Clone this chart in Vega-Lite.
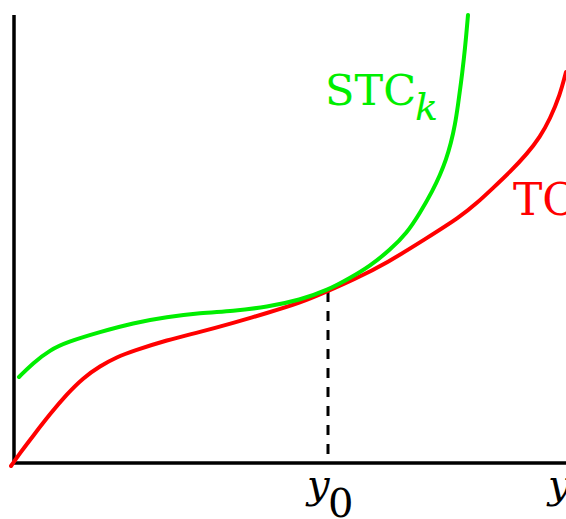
{
  "$schema": "https://vega.github.io/schema/vega-lite/v6.json",
  "width": 566,
  "height": 519,
  "autosize": "none",
  "padding": 0,
  "background": "white",
  "config": {"view": {"stroke": null}, "text": {"font": "DejaVu Serif"}},
  "datasets": {
    "curves": [
      {"curve": "TC", "px": 11, "py": 466}, {"curve": "TC", "px": 20, "py": 453}, {"curve": "TC", "px": 33, "py": 436},
      {"curve": "TC", "px": 50, "py": 414}, {"curve": "TC", "px": 67, "py": 394}, {"curve": "TC", "px": 83, "py": 378},
      {"curve": "TC", "px": 100, "py": 366}, {"curve": "TC", "px": 117, "py": 357}, {"curve": "TC", "px": 133, "py": 351},
      {"curve": "TC", "px": 167, "py": 340}, {"curve": "TC", "px": 200, "py": 332}, {"curve": "TC", "px": 233, "py": 323},
      {"curve": "TC", "px": 267, "py": 313}, {"curve": "TC", "px": 300, "py": 303}, {"curve": "TC", "px": 328, "py": 291},
      {"curve": "TC", "px": 353, "py": 280}, {"curve": "TC", "px": 387, "py": 263}, {"curve": "TC", "px": 427, "py": 238},
      {"curve": "TC", "px": 460, "py": 217}, {"curve": "TC", "px": 477, "py": 203}, {"curve": "TC", "px": 493, "py": 188},
      {"curve": "TC", "px": 510, "py": 172}, {"curve": "TC", "px": 527, "py": 154}, {"curve": "TC", "px": 540, "py": 137},
      {"curve": "TC", "px": 550, "py": 119}, {"curve": "TC", "px": 560, "py": 95}, {"curve": "TC", "px": 566, "py": 72},
      {"curve": "STC", "px": 19, "py": 377}, {"curve": "STC", "px": 33, "py": 363}, {"curve": "STC", "px": 50, "py": 350},
      {"curve": "STC", "px": 67, "py": 342}, {"curve": "STC", "px": 100, "py": 332}, {"curve": "STC", "px": 133, "py": 323},
      {"curve": "STC", "px": 167, "py": 317}, {"curve": "STC", "px": 200, "py": 313}, {"curve": "STC", "px": 233, "py": 311},
      {"curve": "STC", "px": 267, "py": 307}, {"curve": "STC", "px": 300, "py": 300}, {"curve": "STC", "px": 328, "py": 290},
      {"curve": "STC", "px": 350, "py": 278}, {"curve": "STC", "px": 370, "py": 266}, {"curve": "STC", "px": 390, "py": 250},
      {"curve": "STC", "px": 407, "py": 233}, {"curve": "STC", "px": 420, "py": 213}, {"curve": "STC", "px": 433, "py": 190},
      {"curve": "STC", "px": 440, "py": 175}, {"curve": "STC", "px": 446, "py": 160}, {"curve": "STC", "px": 451, "py": 143},
      {"curve": "STC", "px": 455, "py": 125}, {"curve": "STC", "px": 458, "py": 105}, {"curve": "STC", "px": 461, "py": 83},
      {"curve": "STC", "px": 464, "py": 58}, {"curve": "STC", "px": 466, "py": 38}, {"curve": "STC", "px": 468, "py": 15}
    ],
    "axes": [
      {"x": 14, "x2": 14, "y": 15, "y2": 463},
      {"x": 14, "x2": 566, "y": 463, "y2": 463}
    ],
    "dash": [
      {"x": 328, "y": 292, "y2": 463}
    ],
    "labels": [
      {"kind": "stc", "x": 325, "y": 105, "text": "STC"},
      {"kind": "k", "x": 415, "y": 120, "text": "k"},
      {"kind": "tc", "x": 513, "y": 215, "text": "TC"},
      {"kind": "yi", "x": 307, "y": 498, "text": "y"},
      {"kind": "yi", "x": 548, "y": 498, "text": "y"},
      {"kind": "zero", "x": 328, "y": 517, "text": "0"}
    ]
  },
  "layer": [
    {
      "data": {"name": "axes"},
      "mark": {"type": "rule", "color": "black", "strokeWidth": 3.5},
      "encoding": {
        "x": {"field": "x", "type": "quantitative", "scale": {"domain": [0, 566], "nice": false, "zero": false}, "axis": null},
        "x2": {"field": "x2"},
        "y": {"field": "y", "type": "quantitative", "scale": {"domain": [0, 519], "nice": false, "zero": false, "reverse": true}, "axis": null},
        "y2": {"field": "y2"}
      }
    },
    {
      "data": {"name": "dash"},
      "mark": {"type": "rule", "color": "black", "strokeWidth": 3, "strokeDash": [10, 9]},
      "encoding": {
        "x": {"field": "x", "type": "quantitative", "scale": {"domain": [0, 566], "nice": false, "zero": false}, "axis": null},
        "y": {"field": "y", "type": "quantitative", "scale": {"domain": [0, 519], "nice": false, "zero": false, "reverse": true}, "axis": null},
        "y2": {"field": "y2"}
      }
    },
    {
      "data": {"name": "curves"},
      "mark": {"type": "line", "interpolate": "basis", "strokeWidth": 4, "strokeCap": "round"},
      "encoding": {
        "x": {"field": "px", "type": "quantitative", "scale": {"domain": [0, 566], "nice": false, "zero": false}, "axis": null},
        "y": {"field": "py", "type": "quantitative", "scale": {"domain": [0, 519], "nice": false, "zero": false, "reverse": true}, "axis": null},
        "color": {"field": "curve", "type": "nominal", "scale": {"domain": ["TC", "STC"], "range": ["#ff0000", "#00ee00"]}, "legend": null},
        "order": {"field": "px", "type": "quantitative"}
      }
    },
    {
      "data": {"name": "labels"},
      "transform": [{"filter": "datum.kind === 'stc'"}],
      "mark": {"type": "text", "font": "DejaVu Serif", "fontSize": 43, "color": "#00ee00", "align": "left", "baseline": "alphabetic"},
      "encoding": {
        "x": {"field": "x", "type": "quantitative", "scale": {"domain": [0, 566], "nice": false, "zero": false}, "axis": null},
        "y": {"field": "y", "type": "quantitative", "scale": {"domain": [0, 519], "nice": false, "zero": false, "reverse": true}, "axis": null},
        "text": {"field": "text"}
      }
    },
    {
      "data": {"name": "labels"},
      "transform": [{"filter": "datum.kind === 'k'"}],
      "mark": {"type": "text", "font": "DejaVu Serif", "fontStyle": "italic", "fontSize": 38, "color": "#00ee00", "align": "left", "baseline": "alphabetic"},
      "encoding": {
        "x": {"field": "x", "type": "quantitative", "scale": {"domain": [0, 566], "nice": false, "zero": false}, "axis": null},
        "y": {"field": "y", "type": "quantitative", "scale": {"domain": [0, 519], "nice": false, "zero": false, "reverse": true}, "axis": null},
        "text": {"field": "text"}
      }
    },
    {
      "data": {"name": "labels"},
      "transform": [{"filter": "datum.kind === 'tc'"}],
      "mark": {"type": "text", "font": "DejaVu Serif", "fontSize": 44, "color": "#ff0000", "align": "left", "baseline": "alphabetic"},
      "encoding": {
        "x": {"field": "x", "type": "quantitative", "scale": {"domain": [0, 566], "nice": false, "zero": false}, "axis": null},
        "y": {"field": "y", "type": "quantitative", "scale": {"domain": [0, 519], "nice": false, "zero": false, "reverse": true}, "axis": null},
        "text": {"field": "text"}
      }
    },
    {
      "data": {"name": "labels"},
      "transform": [{"filter": "datum.kind === 'yi'"}],
      "mark": {"type": "text", "font": "DejaVu Serif", "fontStyle": "italic", "fontSize": 40, "color": "black", "align": "left", "baseline": "alphabetic"},
      "encoding": {
        "x": {"field": "x", "type": "quantitative", "scale": {"domain": [0, 566], "nice": false, "zero": false}, "axis": null},
        "y": {"field": "y", "type": "quantitative", "scale": {"domain": [0, 519], "nice": false, "zero": false, "reverse": true}, "axis": null},
        "text": {"field": "text"}
      }
    },
    {
      "data": {"name": "labels"},
      "transform": [{"filter": "datum.kind === 'zero'"}],
      "mark": {"type": "text", "font": "DejaVu Serif", "fontSize": 40, "color": "black", "align": "left", "baseline": "alphabetic"},
      "encoding": {
        "x": {"field": "x", "type": "quantitative", "scale": {"domain": [0, 566], "nice": false, "zero": false}, "axis": null},
        "y": {"field": "y", "type": "quantitative", "scale": {"domain": [0, 519], "nice": false, "zero": false, "reverse": true}, "axis": null},
        "text": {"field": "text"}
      }
    }
  ]
}
